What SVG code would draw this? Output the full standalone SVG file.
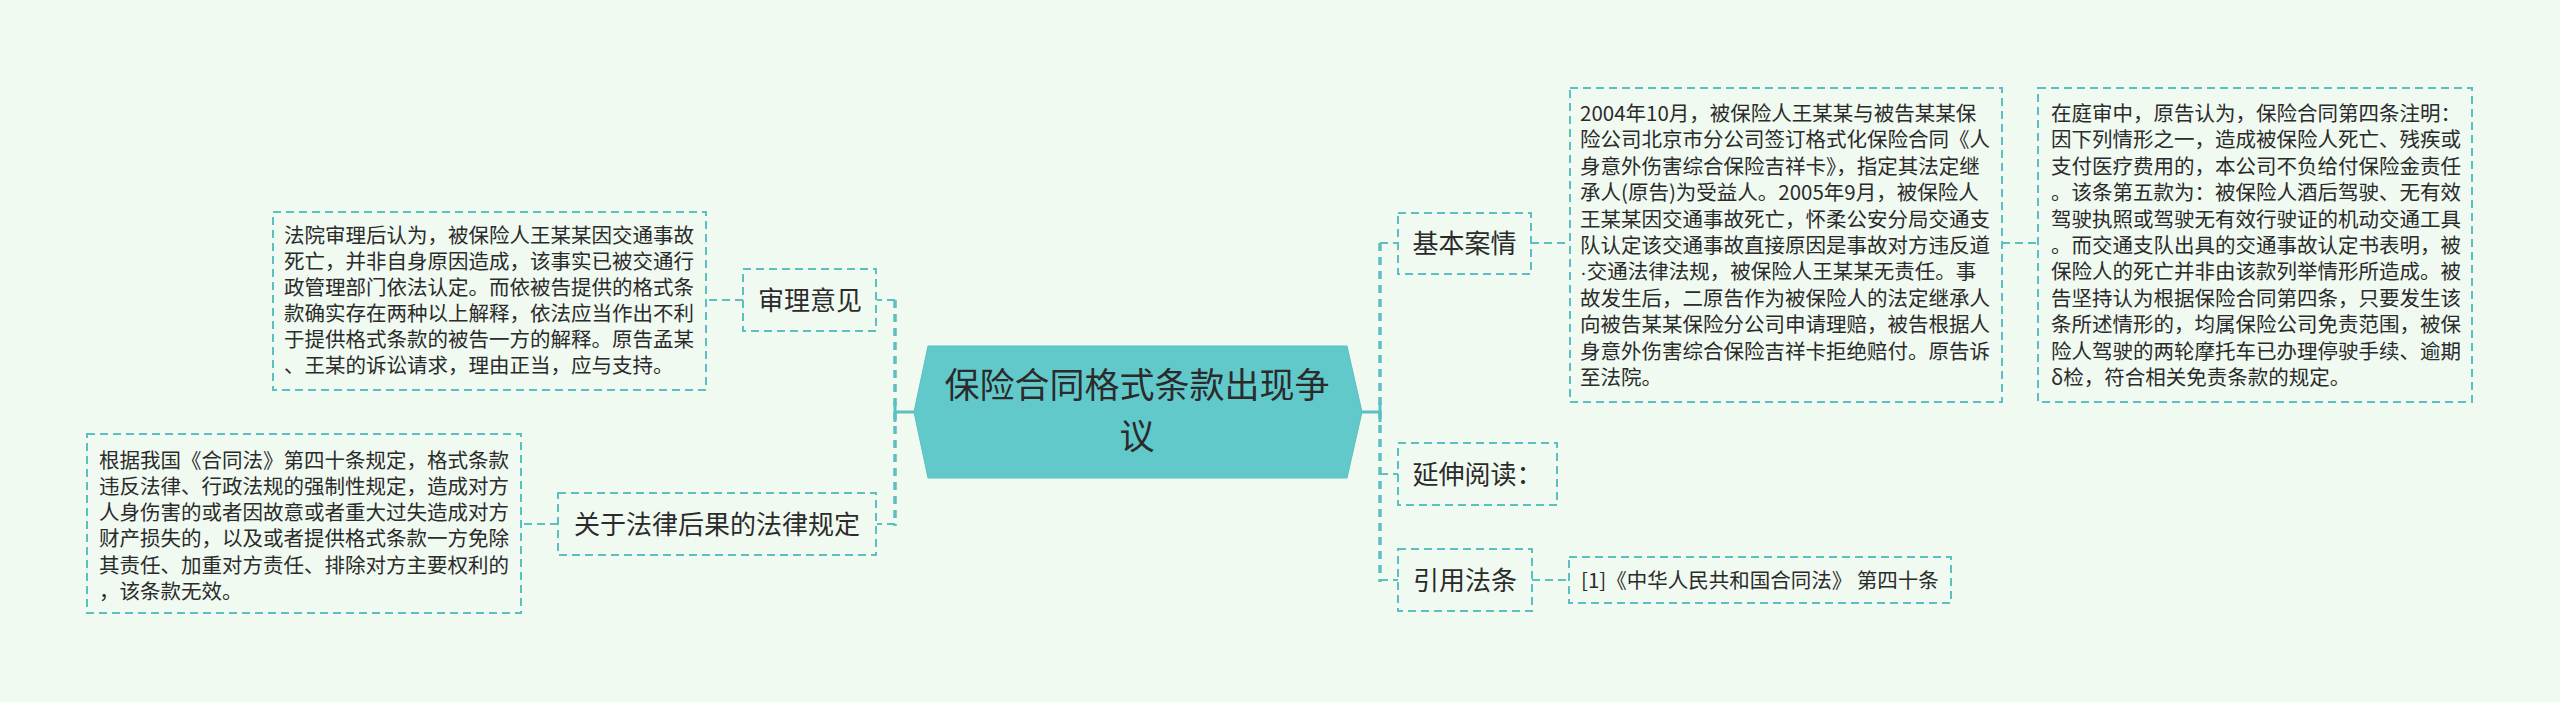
<svg xmlns="http://www.w3.org/2000/svg" width="2560" height="702" viewBox="0 0 2560 702">
<style>
.bg{fill:#f0faf1}
.box{fill:none;stroke:#5cbfc1;stroke-width:2;stroke-dasharray:8 5}
.t{font-family:"Noto Sans CJK SC","Noto Sans",sans-serif;fill:#2b2b2b}
.lvl2{font-size:26px;text-anchor:middle}
.det{font-size:20.5px}
.main{font-size:35px;text-anchor:middle}
.trunk{fill:none;stroke:#5cbfc1;stroke-width:3.5;stroke-dasharray:8 6}
.solid{fill:none;stroke:#5cbfc1;stroke-width:3}
.br{fill:none;stroke:#5cbfc1;stroke-width:2;stroke-dasharray:8 5}
</style>
<rect class="bg" x="0" y="0" width="2560" height="702"/>
<g id="connectors">
<line class="solid" x1="914" y1="412" x2="895" y2="412"/>
<line class="solid" x1="895" y1="402" x2="895" y2="422"/>
<line class="trunk" x1="895" y1="300" x2="895" y2="526"/>
<line class="br" x1="895" y1="300" x2="877" y2="300"/>
<line class="br" x1="895" y1="524" x2="877" y2="524"/>
<line class="br" x1="743" y1="300" x2="706" y2="300"/>
<line class="br" x1="558" y1="524" x2="521" y2="524"/>
<line class="solid" x1="1362" y1="412" x2="1380" y2="412"/>
<line class="solid" x1="1380" y1="402" x2="1380" y2="422"/>
<line class="trunk" x1="1380" y1="243" x2="1380" y2="582"/>
<line class="br" x1="1380" y1="243" x2="1398" y2="243"/>
<line class="br" x1="1380" y1="474" x2="1398" y2="474"/>
<line class="br" x1="1380" y1="580" x2="1398" y2="580"/>
<line class="br" x1="1531" y1="243" x2="1570" y2="243"/>
<line class="br" x1="2002" y1="243" x2="2038" y2="243"/>
<line class="br" x1="1532" y1="580" x2="1569" y2="580"/>
</g>
<g id="root">
<polygon points="914,412 928,346 1347,346 1362,412 1347,478 928,478" fill="#62c9cb" stroke="#5cc0c2" stroke-width="1"/>
<text class="t main" x="1137" y="398">保险合同格式条款出现争<tspan x="1137" dy="51">议</tspan></text>
</g>
<g id="n-shenli">
<rect class="box" x="743" y="269" width="133" height="62"/>
<text class="t lvl2" x="810" y="310">审理意见</text>
</g>
<g id="n-shenli-detail">
<rect class="box" x="273" y="212" width="433" height="178"/>
<text class="t det" x="284" y="242.5">法院审理后认为，被保险人王某某因交通事故<tspan x="284" dy="26">死亡，并非自身原因造成，该事实已被交通行</tspan><tspan x="284" dy="26">政管理部门依法认定。而依被告提供的格式条</tspan><tspan x="284" dy="26">款确实存在两种以上解释，依法应当作出不利</tspan><tspan x="284" dy="26">于提供格式条款的被告一方的解释。原告孟某</tspan><tspan x="284" dy="26">、王某的诉讼请求，理由正当，应与支持。</tspan></text>
</g>
<g id="n-guanyu">
<rect class="box" x="558" y="493" width="318" height="62"/>
<text class="t lvl2" x="717" y="534">关于法律后果的法律规定</text>
</g>
<g id="n-guanyu-detail">
<rect class="box" x="87" y="434" width="434" height="179"/>
<text class="t det" x="99" y="467.5">根据我国《合同法》第四十条规定，格式条款<tspan x="99" dy="26.3">违反法律、行政法规的强制性规定，造成对方</tspan><tspan x="99" dy="26.3">人身伤害的或者因故意或者重大过失造成对方</tspan><tspan x="99" dy="26.3">财产损失的，以及或者提供格式条款一方免除</tspan><tspan x="99" dy="26.3">其责任、加重对方责任、排除对方主要权利的</tspan><tspan x="99" dy="26.3">，该条款无效。</tspan></text>
</g>
<g id="n-jiben">
<rect class="box" x="1398" y="213" width="133" height="61"/>
<text class="t lvl2" x="1464.5" y="253">基本案情</text>
</g>
<g id="n-jiben-detail">
<rect class="box" x="1570" y="88" width="432" height="314"/>
<text class="t det" x="1580" y="121">2004年10月，被保险人王某某与被告某某保<tspan x="1580" dy="26.4">险公司北京市分公司签订格式化保险合同《人</tspan><tspan x="1580" dy="26.4">身意外伤害综合保险吉祥卡》，指定其法定继</tspan><tspan x="1580" dy="26.4">承人(原告)为受益人。2005年9月，被保险人</tspan><tspan x="1580" dy="26.4">王某某因交通事故死亡，怀柔公安分局交通支</tspan><tspan x="1580" dy="26.4">队认定该交通事故直接原因是事故对方违反道</tspan><tspan x="1580" dy="26.4" font-family="Liberation Sans, sans-serif">·</tspan><tspan>交通法律法规，被保险人王某某无责任。事</tspan><tspan x="1580" dy="26.4">故发生后，二原告作为被保险人的法定继承人</tspan><tspan x="1580" dy="26.4">向被告某某保险分公司申请理赔，被告根据人</tspan><tspan x="1580" dy="26.4">身意外伤害综合保险吉祥卡拒绝赔付。原告诉</tspan><tspan x="1580" dy="26.4">至法院。</tspan></text>
</g>
<g id="n-jiben-detail2">
<rect class="box" x="2038" y="88" width="434" height="314"/>
<text class="t det" x="2051" y="121">在庭审中，原告认为，保险合同第四条注明：<tspan x="2051" dy="26.4">因下列情形之一，造成被保险人死亡、残疾或</tspan><tspan x="2051" dy="26.4">支付医疗费用的，本公司不负给付保险金责任</tspan><tspan x="2051" dy="26.4">。该条第五款为：被保险人酒后驾驶、无有效</tspan><tspan x="2051" dy="26.4">驾驶执照或驾驶无有效行驶证的机动交通工具</tspan><tspan x="2051" dy="26.4">。而交通支队出具的交通事故认定书表明，被</tspan><tspan x="2051" dy="26.4">保险人的死亡并非由该款列举情形所造成。被</tspan><tspan x="2051" dy="26.4">告坚持认为根据保险合同第四条，只要发生该</tspan><tspan x="2051" dy="26.4">条所述情形的，均属保险公司免责范围，被保</tspan><tspan x="2051" dy="26.4">险人驾驶的两轮摩托车已办理停驶手续、逾期</tspan><tspan x="2051" dy="26.4">δ检，符合相关免责条款的规定。</tspan></text>
</g>
<g id="n-yanshen">
<rect class="box" x="1398" y="443" width="159" height="62"/>
<text class="t lvl2" x="1477.5" y="484">延伸阅读：</text>
</g>
<g id="n-yinyong">
<rect class="box" x="1398" y="549" width="134" height="62"/>
<text class="t lvl2" x="1465" y="590">引用法条</text>
</g>
<g id="n-yinyong-detail">
<rect class="box" x="1569" y="557" width="382" height="46"/>
<text class="t det" x="1581" y="587.5">[1]《中华人民共和国合同法》 第四十条</text>
</g>
</svg>
